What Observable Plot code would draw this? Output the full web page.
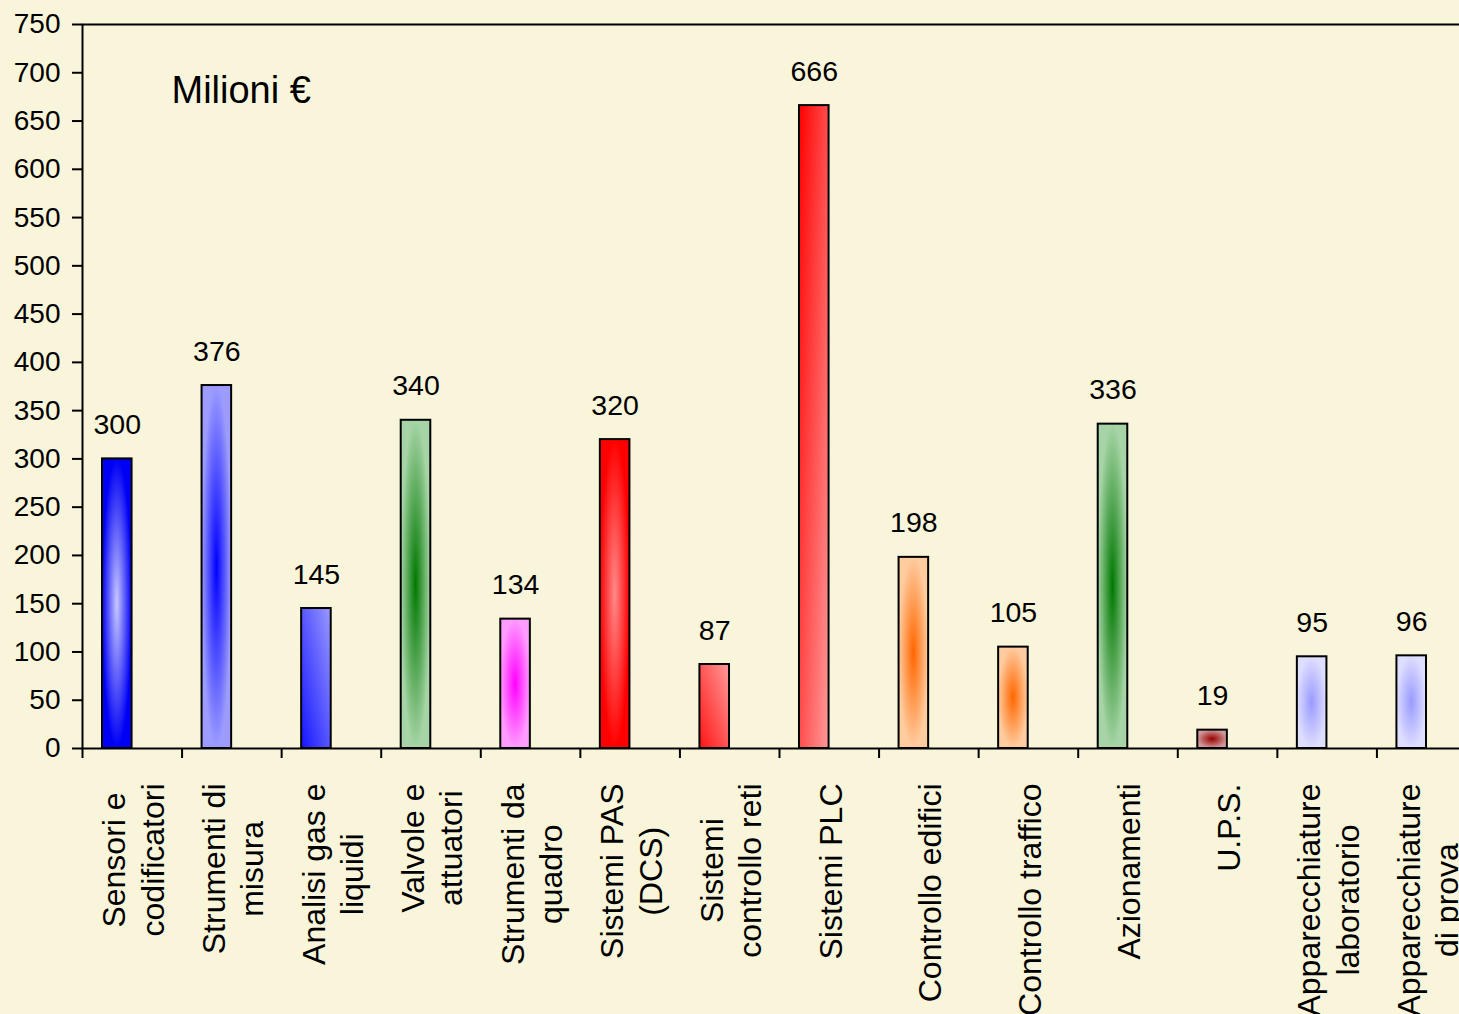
<!DOCTYPE html>
<html>
<head>
<meta charset="utf-8">
<script src="https://cdn.jsdelivr.net/npm/d3@7"></script>
<script src="https://cdn.jsdelivr.net/npm/@observablehq/plot@0.6"></script>
<style>
  html, body { margin: 0; padding: 0; background: #f9f5da; overflow: hidden; width: 1459px; height: 1014px; }
  #chart svg { display: block; max-width: none !important; }
</style>
</head>
<body>
<div id="chart"></div>
<script>
// ---- data ----
const categories = [
  "Sensori e\ncodificatori",
  "Strumenti di\nmisura",
  "Analisi gas e\nliquidi",
  "Valvole e\nattuatori",
  "Strumenti da\nquadro",
  "Sistemi PAS\n(DCS)",
  "Sistemi\ncontrollo reti",
  "Sistemi PLC",
  "Controllo edifici",
  "Controllo traffico",
  "Azionamenti",
  "U.P.S.",
  "Apparecchiature\nlaboratorio",
  "Apparecchiature\ndi prova"
];
const values = [300, 376, 145, 340, 134, 320, 87, 666, 198, 105, 336, 19, 95, 96];
const yTicks = [0, 50, 100, 150, 200, 250, 300, 350, 400, 450, 500, 550, 600, 650, 700, 750];
const unitLabel = "Milioni €";

// ---- styles (gradient fills, one per bar) ----
const fillStyles = [
  {type: "radial", inner: "#c8c8ff", outer: "#0000f5"},
  {type: "radial", inner: "#0000ff", outer: "#9c9cff"},
  {type: "diag-up", start: "#1414ff", end: "#9a9aff"},
  {type: "radial", inner: "#007800", outer: "#a6d4a6"},
  {type: "radial", inner: "#ff00ff", outer: "#ff9cff"},
  {type: "radial", inner: "#ff8a8a", outer: "#ff0000"},
  {type: "diag-up", start: "#ff1414", end: "#ff9a9a"},
  {type: "diag-down", start: "#ff0000", end: "#ff9a9a"},
  {type: "radial", inner: "#ff6600", outer: "#ffcca0"},
  {type: "radial", inner: "#ff6600", outer: "#ffcca0"},
  {type: "radial", inner: "#007800", outer: "#a6d4a6"},
  {type: "radial", inner: "#990000", outer: "#d09a9a"},
  {type: "radial", inner: "#9a9aff", outer: "#dedeff"},
  {type: "radial", inner: "#9a9aff", outer: "#dedeff"}
];

const data = categories.map((c, i) => ({cat: c, value: values[i], fill: `url(#barfill${i})`}));

// ---- layout ----
const W = 1476, H = 1014, ML = 82, MR = 0, MT = 24, MB = 266;
const step = (W - ML - MR) / categories.length;
const insetL = 20, insetR = 50;
const font = "'Liberation Sans', Arial, Helvetica, sans-serif";
const catFont = 32, catLH = 1.2;

const cnv = document.createElement("canvas").getContext("2d");
cnv.font = `${catFont}px 'Liberation Sans', Arial`;

const labelMarks = categories.map(c => {
  const L = d3.max(c.split("\n"), s => cnv.measureText(s).width);
  return Plot.text([c], {
    x: d => d, frameAnchor: "bottom", rotate: -90, textAnchor: "middle", lineAnchor: "middle",
    lineHeight: catLH, fontSize: catFont, fill: "black", dy: 35 + L / 2
  });
});

const svg = Plot.plot({
  width: W, height: H,
  marginLeft: ML, marginRight: MR, marginTop: MT, marginBottom: MB,
  x: {type: "band", domain: categories, padding: 0, round: false, axis: null},
  y: {domain: [0, 750], axis: null},
  color: {type: "identity"},
  style: {background: "transparent", color: "black", fontFamily: font, overflow: "visible", maxWidth: "none"},
  marks: [
    Plot.barY(data, {x: "cat", y: "value", fill: "fill", stroke: "black", strokeWidth: 2, insetLeft: insetL, insetRight: insetR}),
    Plot.frame({stroke: "black", strokeWidth: 2}),
    Plot.axisY({ticks: yTicks, tickSize: 10, tickPadding: 12, fontSize: 28, strokeWidth: 2, label: null}),
    Plot.axisX({tickSize: 10, tickFormat: () => "", dx: -step / 2, strokeWidth: 2, label: null}),
    Plot.text(data, {x: "cat", y: "value", text: d => String(d.value), dx: (insetL - insetR) / 2, dy: -25, lineAnchor: "bottom", fontSize: 28.5, fill: "black"}),
    ...labelMarks,
    Plot.text([unitLabel], {frameAnchor: "top-left", dx: 89, dy: 78, lineAnchor: "bottom", textAnchor: "start", fontSize: 38, fill: "black"})
  ]
});

svg.style.maxWidth = "none";
svg.style.height = H + "px";
svg.style.width = W + "px";

// gradient definitions
const defs = d3.select(svg).insert("defs", ":first-child");
fillStyles.forEach((f, i) => {
  let g;
  if (f.type === "radial") {
    g = defs.append("radialGradient").attr("id", `barfill${i}`).attr("cx", 0.5).attr("cy", 0.5).attr("r", 0.5);
    g.append("stop").attr("offset", 0).attr("stop-color", f.inner);
    g.append("stop").attr("offset", 1).attr("stop-color", f.outer);
  } else {
    const up = f.type === "diag-up";
    g = defs.append("linearGradient").attr("id", `barfill${i}`)
      .attr("x1", 0).attr("y1", up ? 1 : 0).attr("x2", 1).attr("y2", up ? 0 : 1);
    g.append("stop").attr("offset", 0).attr("stop-color", f.start);
    g.append("stop").attr("offset", 1).attr("stop-color", f.end);
  }
});

document.getElementById("chart").appendChild(svg);
</script>
</body>
</html>
